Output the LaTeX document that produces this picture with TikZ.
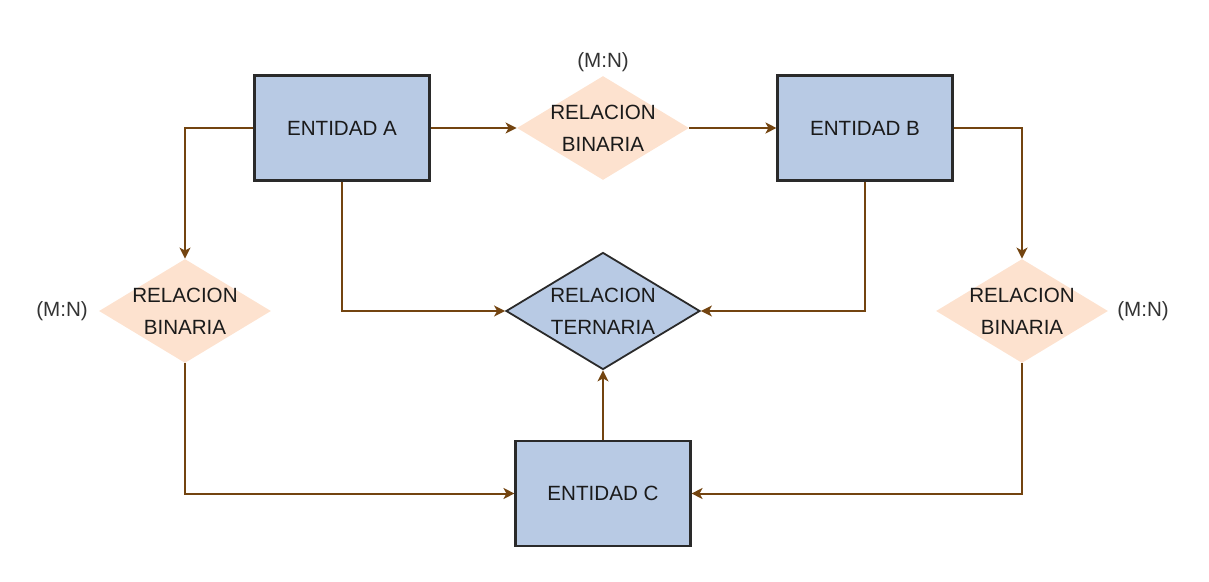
\documentclass[tikz,border=0pt]{standalone}
\usepackage{fontspec}
\setmainfont{Liberation Sans}
\usepackage{tikz}
\usetikzlibrary{arrows.meta,positioning,shapes.geometric}
\definecolor{erInk}{HTML}{1A1A1A}
\definecolor{erEdge}{HTML}{2A2A2A}
\definecolor{erBlue}{HTML}{B8CAE4}
\definecolor{erPeach}{HTML}{FDE2CF}
\definecolor{erBrown}{HTML}{734410}
\definecolor{erGray}{HTML}{333333}
\tikzset{
  % Entity box (blue)
  ebox/.style={rectangle,minimum width=87.5pt,minimum height=52.5pt,
    align=center,draw=erEdge,line width=1.05pt,fill=erBlue,
    font=\fontsize{10.3}{16}\selectfont,text=erInk},
  % Binary relation (peach, no border)
  bdia/.style={diamond,aspect=1.64,inner sep=-2pt,
    minimum width=86pt,minimum height=52pt,
    align=center,fill=erPeach,
    font=\fontsize{10.3}{16}\selectfont,text=erInk},
  % Ternary relation (blue, bordered)
  tdia/.style={diamond,aspect=1.66,inner sep=-2pt,
    minimum width=97pt,minimum height=58.5pt,
    align=center,draw=erEdge,line width=0.9pt,fill=erBlue,
    font=\fontsize{10.3}{16}\selectfont,text=erInk},
  % Cardinality
  card/.style={font=\fontsize{10.3}{12}\selectfont,text=erGray},
  % Arrows
  arr/.style={-{Stealth[length=5.5pt,width=5.5pt,inset=1.5pt]},line width=1pt,color=erBrown},
}
\begin{document}
\begin{tikzpicture}[on grid]
  \useasboundingbox (-171pt,64pt) rectangle (433.5pt,-227pt);

  % Top row
  \node[ebox] (entA) {ENTIDAD A};
  \node[bdia,right=130.5pt of entA] (relAB) {RELACION\\BINARIA};
  \node[ebox,right=131pt of relAB] (entB) {ENTIDAD B};

  % Middle row
  \node[tdia,below=91.5pt of relAB] (relABC) {RELACION\\TERNARIA};
  \node[bdia,below left=91.5pt and 78.5pt of entA] (relAC) {RELACION\\BINARIA};
  \node[bdia,below right=91.5pt and 78.5pt of entB] (relBC) {RELACION\\BINARIA};

  % Bottom
  \node[ebox,below=91.25pt of relABC] (entC) {ENTIDAD C};

  % Cardinalities
  \node[card,above=33pt of relAB] (cardAB) {(M:N)};
  \node[card,left=61.5pt of relAC] (cardAC) {(M:N)};
  \node[card,right=60.5pt of relBC] (cardBC) {(M:N)};

  \draw[arr] (entA.east) -- (relAB.west);
  \draw[arr] (relAB.east) -- (entB.west);
  \draw[arr] (entA.west) -| (relAC.north);
  \draw[arr] (entB.east) -| (relBC.north);
  \draw[arr] (entA.south) |- (relABC.west);
  \draw[arr] (entB.south) |- (relABC.east);
  \draw[arr] (entC.north) -- (relABC.south);
  \draw[arr] (relAC.south) |- (entC.west);
  \draw[arr] (relBC.south) |- (entC.east);
\end{tikzpicture}
\end{document}
